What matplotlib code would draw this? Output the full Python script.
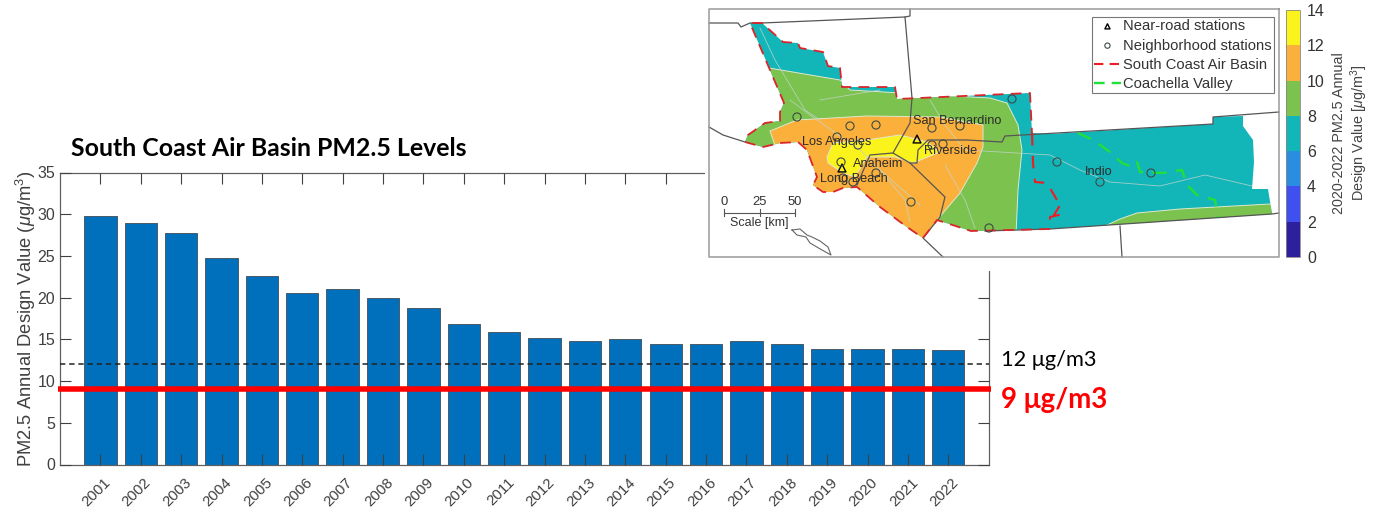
import matplotlib
matplotlib.use('Agg')
import matplotlib.pyplot as plt
from matplotlib.patches import Polygon
from matplotlib.colors import ListedColormap, BoundaryNorm
from matplotlib.cm import ScalarMappable
from matplotlib.transforms import ScaledTranslation

# bar chart values
years = list(range(2001, 2023))
pm25 = [29.8, 29.0, 27.8, 24.8, 22.6, 20.6, 21.0, 20.0, 18.8, 16.9, 15.9,
        15.2, 14.8, 15.1, 14.5, 14.5, 14.8, 14.5, 13.8, 13.8, 13.8, 13.7]
old_std = 12
new_std = 9

# colour bar
cb_levels = [0, 2, 4, 6, 8, 10, 12, 14]
cb_colors = ['#2e1f9c', '#3f4ff0', '#2b8de0', '#12b5b8', '#7cc24e', '#fbb03b', '#fbf31c']

# map shapes (map x, map y)
basin = [(750,23),(762,23),(783,42),(798,43),(800,48),(823,52),(828,66),(840,68),(842,87),
         (895,87),(897,99),(1030,93),(1032,133),(1050,134),(1213,124),(1213,117),(1243,116),
         (1243,126),(1253,140),(1254,162),(1252,189),(1268,189),(1272,214),(1050,229),(971,231),
         (937,220),(923,238),(907,227),(880,207),(857,187),(843,188),(833,192),(823,192),(813,185),
         (817,177),(807,150),(798,142),(780,143),(763,147),(745,142),(748,135),(765,123),(780,121),
         (780,112),(784,103)]
# part of the outline that carries the red dashes (the eastern end has none)
red_outline = basin[23:] + basin[:13]
green_zone = [(745,60),(769,68),(840,80),(850,90),(952,96),(990,98),(1007,103),(1018,125),(1022,150),
              (1018,190),(1016,235),(900,250),(730,160)]
green_strip = [(1105,226),(1120,219),(1137,213),(1180,209),(1270,204),(1280,216),(1105,232)]
orange_zone = [(770,131),(797,120),(867,116),(940,117),(983,125),(983,147),(977,163),(960,193),
               (937,220),(925,245),(850,230),(780,160)]
yellow_zone = [(827,157),(833,143),(867,140),(900,135),(927,142),(940,152),(913,163),(895,157),
               (867,157),(855,177),(843,173),(828,163)]

county_lines = [
    [(709,23),(738,23),(741,27),(750,23),(762,23),(905,17),(910,16),(910,9)],
    [(905,17),(912,98),(910,123),(893,153),(910,163),(945,197),(940,217),(923,238),(943,257)],
    [(893,153),(870,155),(857,185)],
    [(910,163),(917,163),(918,150),(928,140),(967,140),(1002,142),(1005,136),(1213,124),(1213,117),(1279,112)],
    [(1120,226),(1122,257)],
    [(709,127),(723,135),(745,142)],
    [(985,231),(1050,229),(1272,214),(1279,213)],
]
island_1 = [(792,230),(800,229),(807,235),(812,237),(820,241),(828,247),(831,255),(822,250),(810,243),(806,237),(797,235)]
roads = [
    [(760,28),(775,60),(790,85),(805,110),(820,120)],
    [(820,100),(850,95),(880,90)],
    [(790,100),(810,115),(860,150),(880,170),(920,205)],
    [(930,100),(945,125),(965,150),(1000,152),(1050,155),(1080,170),(1110,182),(1160,186),(1205,175),(1252,186)],
    [(945,165),(965,200),(975,228)],
    [(880,170),(905,200),(910,222)],
]
coachella = [(1078,133),(1093,140),(1110,152),(1122,163),(1132,167),(1137,162),(1140,172),(1163,173),
             (1182,170),(1187,185),(1197,195),(1215,200),(1218,217)]
red_inner = [(1032,133),(1033,163),(1035,182),(1048,183),(1050,188),(1057,200),(1062,202),(1054,215),
             (1063,214),(1050,217),(1050,228)]
neigh_x = [797,850,876,837,858,841,843,876,853,911,932,960,932,943,989,1012,1057,1100,1151]
neigh_y = [117,126,125,137,145,162,178,173,182,202,128,126,145,144,228,99,162,182,173]
road_x = [917,842]
road_y = [139,168]
cities = ['Los Angeles', 'San Bernardino', 'Riverside', 'Anaheim', 'Long Beach', 'Indio']
city_x = [802,913,924,853,820,1085]
city_y = [142,121,151,164,179,172]
scale_km = [0, 25, 50]
scale_x = [724, 759.5, 795]

W, H = 1376, 513
def box(l, t, r, b):
    return [l/W, 1-b/H, (r-l)/W, (b-t)/H]

plt.rcParams['font.family'] = ['Liberation Sans', 'DejaVu Sans']
plt.rcParams['mathtext.fontset'] = 'custom'
plt.rcParams['mathtext.rm'] = 'Liberation Sans'
plt.rcParams['mathtext.it'] = 'Liberation Sans:italic'
gray = '#404040'

fig = plt.figure(figsize=(W/100, H/100), dpi=100)

# --- bars
ax = fig.add_axes(box(60, 172.5, 988.7, 464.5))
ax.bar(years, pm25, width=0.8, color='#0070bd', edgecolor='#4a5a68', linewidth=0.7)
ax.set_xlim(2000, 2023)
ax.set_ylim(0, 35)
ax.set_xticks(years)
ax.set_xticklabels(years, rotation=45, ha='right', rotation_mode='anchor')
ax.set_yticks(range(0, 36, 5))
ax.tick_params(direction='in', top=True, right=True, length=8, width=0.8, color=gray,
               labelcolor=gray, labelsize=11.5, zorder=5)
ax.tick_params(axis='x', labelsize=10.8, pad=8)
# labels sit a little to the right of their ticks
for lab in ax.get_xticklabels():
    lab.set_transform(lab.get_transform() + ScaledTranslation(3/100, 0, fig.dpi_scale_trans))
ax.set_axisbelow(False)
for s in ax.spines.values():
    s.set_color('#606060')
    s.set_linewidth(0.9)
ax.set_ylabel(r'PM2.5 Annual Design Value ($\mu$g/m$^3$)', fontsize=13.2, color=gray, labelpad=-0.5)
ax.plot([2000, 2023], [old_std, old_std], color='#222222', lw=1.1, ls=(0, (3.5, 2.5)), zorder=6)
ax.plot([1999.95, 2023.05], [new_std, new_std], color='#ff0000', lw=4, clip_on=False, zorder=7,
        solid_capstyle='butt')

fig.text(71/W, 1-149/H, 'South Coast Air Basin PM2.5 Levels', fontsize=17.9, fontweight='bold',
         family=['Lato', 'DejaVu Sans'], color='black', va='center')
fig.text(1001/W, 1-360/H, f'{old_std} \u03bcg/m3', fontsize=15.7, family=['Lato', 'DejaVu Sans'],
         color='black', va='center')
fig.text(1001/W, 1-400/H, f'{new_std} \u03bcg/m3', fontsize=20, fontweight='bold',
         family=['Lato', 'DejaVu Sans'], color='#ff0000', va='center')

# --- map, drawn over the top right of the chart
m = fig.add_axes(box(705, 0, 1284, 271), zorder=10)
m.set_xlim(705, 1284)
m.set_ylim(271, 0)
m.set_xticks([])
m.set_yticks([])
for s in m.spines.values():
    s.set_visible(False)

outline = Polygon(basin, closed=True, facecolor=cb_colors[3], edgecolor='none', zorder=1)
m.add_patch(outline)
for pts, col, z in [(green_zone, cb_colors[4], 2), (green_strip, cb_colors[4], 2),
                    (orange_zone, cb_colors[5], 3), (yellow_zone, cb_colors[6], 4)]:
    p = Polygon(pts, closed=True, facecolor=col, edgecolor='#dfe8d0', linewidth=0.7, zorder=z)
    m.add_patch(p)
    p.set_clip_path(outline)
for r in roads:
    line, = m.plot(*zip(*r), color='#c4d6cc', lw=0.6, alpha=0.8, zorder=5)
    line.set_clip_path(outline)
for c in county_lines:
    m.plot(*zip(*c), color='#555555', lw=0.9, zorder=6)
m.plot(*zip(*(island_1 + island_1[:1])), color='#666666', lw=0.8, zorder=6)
m.plot(*zip(*[(1279, 9), (709, 9), (709, 257), (1279, 257), (1279, 9)]), color='#9a9a9a', lw=1.1, zorder=6)

m.plot(*zip(*red_outline), color='#d9262c', lw=1.3, ls=(0, (6, 4)), zorder=7)
h_basin, = m.plot(*zip(*red_inner), color='#ee1c25', lw=1.5, ls=(0, (6, 5)), zorder=7,
                  label='South Coast Air Basin')
h_valley, = m.plot(*zip(*coachella), color='#22e03a', lw=1.7, ls=(0, (6, 4)), zorder=7,
                   label='Coachella Valley')
h_near = m.scatter(road_x, road_y, marker='^', s=32, facecolor='none', edgecolor='black', linewidth=1,
                   zorder=8, label='Near-road stations')
h_neigh = m.scatter(neigh_x, neigh_y, marker='o', s=34, facecolor='none', edgecolor='#3d4a44', linewidth=0.8,
                    zorder=8, label='Neighborhood stations')
for name, x, y in zip(cities, city_x, city_y):
    m.text(x, y, name, fontsize=9.2, color='#2b2b2b', va='center', zorder=9)

# scale bar
m.plot([scale_x[0], scale_x[-1]], [213, 213], color='#555555', lw=0.8, zorder=6)
for km, x in zip(scale_km, scale_x):
    m.plot([x, x], [209, 216], color='#555555', lw=0.8, zorder=6)
    m.text(x, 202, str(km), fontsize=9.4, color='#333333', ha='center', va='center')
m.text(730, 223, 'Scale [km]', fontsize=9, color='#333333', va='center')

leg = m.legend(handles=[h_near, h_neigh, h_basin, h_valley], loc='upper left',
               bbox_to_anchor=(1092, 17), bbox_transform=m.transData, borderaxespad=0,
               fontsize=10.6, fancybox=False, framealpha=1, edgecolor='#777777', markerscale=0.65,
               handlelength=1.8, handletextpad=0.15, labelspacing=0.36, borderpad=0.15)
leg.set_zorder(12)
leg.get_frame().set_linewidth(0.8)
for t in leg.get_texts():
    t.set_color('#333333')
for hl in leg.get_lines():
    hl.set_linestyle((0, (4.5, 3)))

# --- colour bar
cax = fig.add_axes(box(1286, 10, 1300, 257), zorder=11)
cb = fig.colorbar(ScalarMappable(norm=BoundaryNorm(cb_levels, 7), cmap=ListedColormap(cb_colors)),
                  cax=cax, ticks=cb_levels, spacing='proportional')
cb.outline.set_edgecolor('#888888')
cb.outline.set_linewidth(0.6)
cax.tick_params(length=0, labelsize=11.5, labelcolor='#333333', pad=5)
fig.text(1351/W, 1-133/H, '2020-2022 PM2.5 Annual\nDesign Value [$\\mu$g/m$^3$]', rotation=90,
         fontsize=10.4, color='#444444', ha='center', va='center', linespacing=1.15, multialignment='center')

fig.savefig('out.png', dpi=100)
